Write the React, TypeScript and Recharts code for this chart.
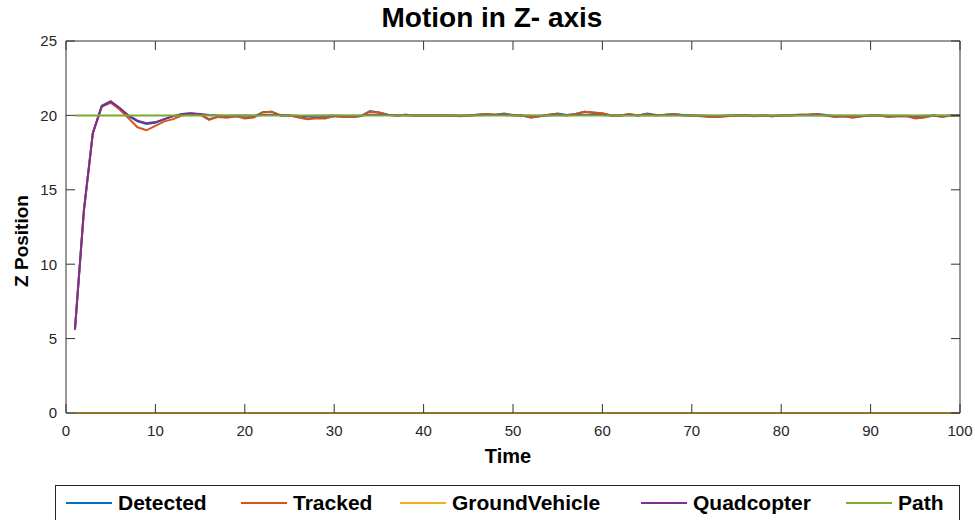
import React from "react"
import { LineChart, Line, XAxis, YAxis } from "recharts"

const FONT = "'Liberation Sans', Arial, Helvetica, sans-serif"

// time steps 1..100
const time = Array.from({ length: 100 }, (_, i) => i + 1)

const detected = [
  5.6, 13.6, 18.8, 20.65, 20.95, 20.5, 19.95, 19.6, 19.42, 19.5,
  19.75, 19.95, 20.1, 20.12, 20.05, 19.75, 19.9, 19.9, 19.95, 19.85,
  19.9, 20.22, 20.25, 20.0, 20.0, 19.9, 19.8, 19.85, 19.85, 19.95,
  19.95, 19.9, 19.95, 20.3, 20.2, 20.05, 20.0, 20.05, 20.0, 20.0,
  20.0, 20.0, 20.0, 19.97, 20.0, 20.05, 20.1, 20.05, 20.12, 20.02,
  20.0, 19.87, 19.95, 20.05, 20.12, 20.02, 20.1, 20.25, 20.18, 20.12,
  20.0, 20.0, 20.08, 20.0, 20.12, 20.02, 20.05, 20.1, 20.02, 20.0,
  19.97, 19.92, 19.92, 19.97, 20.0, 20.02, 19.97, 20.0, 19.95, 20.0,
  20.02, 20.05, 20.05, 20.1, 20.02, 19.92, 19.95, 19.88, 19.95, 20.0,
  20.0, 19.92, 19.95, 19.95, 19.83, 19.87, 20.0, 19.92, 20.0, 20.0,
]

const tracked = [
  5.6, 13.6, 18.8, 20.6, 20.85, 20.4, 19.8, 19.2, 19.0, 19.3,
  19.6, 19.75, 20.0, 20.1, 20.05, 19.7, 19.9, 19.85, 19.95, 19.8,
  19.85, 20.2, 20.25, 20.0, 20.0, 19.85, 19.75, 19.8, 19.8, 19.95,
  19.9, 19.9, 19.95, 20.25, 20.2, 20.05, 20.0, 20.05, 20.0, 20.0,
  20.0, 20.0, 20.0, 19.95, 20.0, 20.05, 20.1, 20.05, 20.1, 20.0,
  20.0, 19.85, 19.95, 20.05, 20.1, 20.0, 20.1, 20.25, 20.2, 20.15,
  20.0, 20.0, 20.1, 20.0, 20.1, 20.0, 20.05, 20.1, 20.0, 20.0,
  19.95, 19.9, 19.9, 19.95, 20.0, 20.0, 19.95, 20.0, 19.95, 20.0,
  20.0, 20.05, 20.05, 20.1, 20.0, 19.9, 19.95, 19.85, 19.95, 20.0,
  20.0, 19.9, 19.95, 19.95, 19.8, 19.85, 20.0, 19.9, 20.0, 20.0,
]

const groundVehicle = [
  0, 0, 0, 0, 0, 0, 0, 0, 0, 0,
  0, 0, 0, 0, 0, 0, 0, 0, 0, 0,
  0, 0, 0, 0, 0, 0, 0, 0, 0, 0,
  0, 0, 0, 0, 0, 0, 0, 0, 0, 0,
  0, 0, 0, 0, 0, 0, 0, 0, 0, 0,
  0, 0, 0, 0, 0, 0, 0, 0, 0, 0,
  0, 0, 0, 0, 0, 0, 0, 0, 0, 0,
  0, 0, 0, 0, 0, 0, 0, 0, 0, 0,
  0, 0, 0, 0, 0, 0, 0, 0, 0, 0,
  0, 0, 0, 0, 0, 0, 0, 0, 0, 0,
]

const quadcopter = [
  5.6, 13.6, 18.8, 20.6, 20.92, 20.5, 20.0, 19.65, 19.47, 19.55,
  19.75, 19.95, 20.1, 20.15, 20.1, 20.02, 20.0, 19.98, 20.0, 20.0,
  19.98, 20.03, 20.05, 20.02, 20.0, 19.97, 19.96, 19.97, 19.98, 20.0,
  19.98, 19.98, 20.0, 20.05, 20.05, 20.02, 20.0, 20.0, 20.0, 20.0,
  20.0, 20.0, 20.0, 19.99, 20.0, 20.01, 20.02, 20.02, 20.02, 20.01,
  20.0, 19.97, 19.98, 20.0, 20.02, 20.01, 20.02, 20.05, 20.05, 20.03,
  20.0, 20.0, 20.02, 20.0, 20.02, 20.01, 20.01, 20.02, 20.01, 20.0,
  19.99, 19.98, 19.98, 19.99, 20.0, 20.0, 19.99, 20.0, 19.99, 20.0,
  20.0, 20.01, 20.01, 20.02, 20.0, 19.98, 19.98, 19.97, 19.98, 20.0,
  20.0, 19.98, 19.98, 19.98, 19.96, 19.97, 19.99, 19.98, 20.0, 20.0,
]

const path = [
  20, 20, 20, 20, 20, 20, 20, 20, 20, 20,
  20, 20, 20, 20, 20, 20, 20, 20, 20, 20,
  20, 20, 20, 20, 20, 20, 20, 20, 20, 20,
  20, 20, 20, 20, 20, 20, 20, 20, 20, 20,
  20, 20, 20, 20, 20, 20, 20, 20, 20, 20,
  20, 20, 20, 20, 20, 20, 20, 20, 20, 20,
  20, 20, 20, 20, 20, 20, 20, 20, 20, 20,
  20, 20, 20, 20, 20, 20, 20, 20, 20, 20,
  20, 20, 20, 20, 20, 20, 20, 20, 20, 20,
  20, 20, 20, 20, 20, 20, 20, 20, 20, 20,
]

const xTicks = [0, 10, 20, 30, 40, 50, 60, 70, 80, 90, 100]
const yTicks = [0, 5, 10, 15, 20, 25]

const series = [
  { key: "detected", name: "Detected", color: "#0072BD" },
  { key: "tracked", name: "Tracked", color: "#D95319" },
  { key: "ground", name: "GroundVehicle", color: "#EDB120" },
  { key: "quad", name: "Quadcopter", color: "#7E2F8E" },
  { key: "path", name: "Path", color: "#77AC30" },
]

const data = time.map((t, i) => ({
  t,
  detected: detected[i],
  tracked: tracked[i],
  ground: groundVehicle[i],
  quad: quadcopter[i],
  path: path[i],
}))

// legend item x offsets inside the legend box
const legendLeft = [10, 185, 344, 585, 790]

const axisColor = "#333333"
const TICK = 9

// bottom/left axes are mirrored so tick marks point into the plot (MATLAB style);
// labels are pushed back outside by these custom ticks
function BottomTick(props: any) {
  const { x, y, payload } = props
  return (
    <text x={x} y={y + TICK + 23} textAnchor="middle" fill="#262626" fontSize={15} fontFamily={FONT}>
      {payload.value}
    </text>
  )
}

function LeftTick(props: any) {
  const { x, y, payload } = props
  return (
    <text x={x - TICK - 9} y={y} dy="0.36em" textAnchor="end" fill="#262626" fontSize={15} fontFamily={FONT}>
      {payload.value}
    </text>
  )
}

// top/right axes: draw the inward tick mark ourselves
function TopTickMark(props: any) {
  const { x, y } = props
  return <line x1={x} x2={x} y1={y} y2={y + TICK} stroke={axisColor} />
}

function RightTickMark(props: any) {
  const { x, y } = props
  return <line x1={x - TICK} x2={x} y1={y} y2={y} stroke={axisColor} />
}

export default function App() {
  return (
    <div style={{ position: "absolute", left: 0, top: 0, width: 975, height: 520, background: "#fff", fontFamily: FONT }}>
      <div
        style={{
          position: "absolute",
          left: 0,
          width: 984,
          top: 4,
          textAlign: "center",
          fontSize: 28,
          lineHeight: "28px",
          fontWeight: "bold",
          color: "#000",
        }}
      >
        Motion in Z- axis
      </div>

      <LineChart width={975} height={520} data={data} margin={{ top: 40, right: 14, left: 66, bottom: 107 }}>
        <XAxis
          type="number"
          dataKey="t"
          domain={[0, 100]}
          ticks={xTicks}
          height={1}
          mirror
          tickSize={TICK}
          tickMargin={0}
          tick={<BottomTick />}
          stroke={axisColor}
        />
        <YAxis
          type="number"
          domain={[0, 25]}
          ticks={yTicks}
          width={1}
          mirror
          tickSize={TICK}
          tickMargin={0}
          tick={<LeftTick />}
          stroke={axisColor}
        />
        <XAxis
          xAxisId="top"
          orientation="top"
          type="number"
          dataKey="t"
          domain={[0, 100]}
          ticks={xTicks}
          height={1}
          tickLine={false}
          tickSize={0}
          tickMargin={0}
          tick={<TopTickMark />}
          stroke={axisColor}
        />
        <YAxis
          yAxisId="right"
          orientation="right"
          type="number"
          domain={[0, 25]}
          ticks={yTicks}
          width={1}
          tickLine={false}
          tickSize={0}
          tickMargin={0}
          tick={<RightTickMark />}
          stroke={axisColor}
        />
        {series.map((s) => (
          <Line
            key={s.key}
            type="linear"
            dataKey={s.key}
            name={s.name}
            stroke={s.color}
            strokeWidth={2}
            dot={false}
            isAnimationActive={false}
            xAxisId={s.key === "path" ? "top" : 0}
            yAxisId={s.key === "path" ? "right" : 0}
          />
        ))}
      </LineChart>

      <div
        style={{
          position: "absolute",
          left: 508,
          top: 446,
          transform: "translateX(-50%)",
          fontSize: 20,
          lineHeight: "20px",
          fontWeight: "bold",
          color: "#000",
        }}
      >
        Time
      </div>
      <div
        style={{
          position: "absolute",
          left: 22,
          top: 241,
          transform: "translate(-50%, -50%) rotate(-90deg)",
          fontSize: 19,
          lineHeight: "20px",
          fontWeight: "bold",
          color: "#000",
          whiteSpace: "nowrap",
        }}
      >
        Z Position
      </div>

      <div
        style={{
          position: "absolute",
          left: 55,
          top: 485,
          width: 905,
          height: 36,
          border: "1px solid #262626",
          boxSizing: "border-box",
          background: "#fff",
        }}
      >
        {series.map((s, i) => (
          <div
            key={s.key}
            style={{ position: "absolute", left: legendLeft[i], top: 0, height: 34, display: "flex", alignItems: "center" }}
          >
            <div style={{ width: 46, height: 2, background: s.color, marginRight: 6 }} />
            <span style={{ fontSize: 21, fontWeight: "bold", color: "#000" }}>{s.name}</span>
          </div>
        ))}
      </div>
    </div>
  )
}
